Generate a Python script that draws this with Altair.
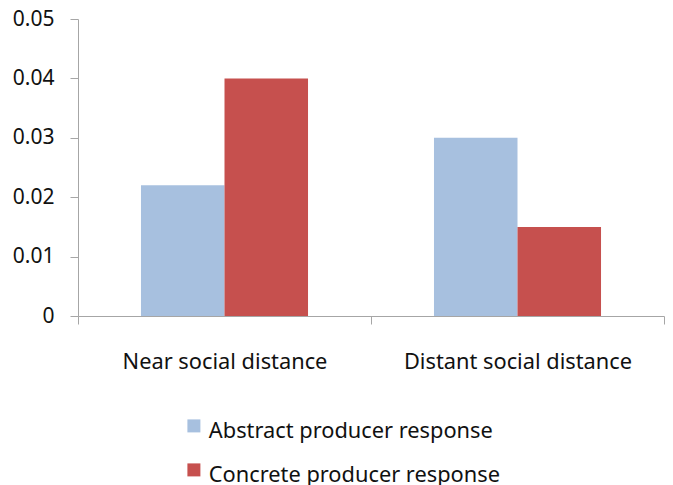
import altair as alt
import pandas as pd

categories = ["Near social distance", "Distant social distance"]
series = ["Abstract producer response", "Concrete producer response"]
abstract_vals = [0.022, 0.030]
concrete_vals = [0.040, 0.015]
colors = ["#A7C0DF", "#C6504E"]

rows = []
for i, c in enumerate(categories):
    rows.append({"cat": c, "series": series[0], "value": abstract_vals[i]})
    rows.append({"cat": c, "series": series[1], "value": concrete_vals[i]})
df = pd.DataFrame(rows)

FONT = "Noto Sans"
FS = 21.8
FSY = 21

chart = alt.Chart(df).mark_bar().encode(
    x=alt.X("cat:N", sort=categories, title=None,
            scale=alt.Scale(paddingInner=0, paddingOuter=0),
            axis=alt.Axis(labelAngle=0, tickBand="extent", tickSize=8,
                          labelPadding=27, labelFontSize=FS, labelFont=FONT,
                          labelLimit=0,
                          labelColor="#111111", domainColor="#A6A6A6",
                          tickColor="#A6A6A6", grid=False)),
    xOffset=alt.XOffset("series:N", sort=series,
                        scale=alt.Scale(paddingInner=0, paddingOuter=0.754)),
    y=alt.Y("value:Q", title=None,
            scale=alt.Scale(domain=[0, 0.05], nice=False),
            axis=alt.Axis(values=[0, 0.01, 0.02, 0.03, 0.04, 0.05],
                          labelExpr="datum.value == 0 ? '0' : format(datum.value, '.2f')",
                          tickSize=8, labelPadding=16, labelFontSize=FSY,
                          labelFont=FONT, labelColor="#111111",
                          domainColor="#A6A6A6", tickColor="#A6A6A6", grid=False)),
    color=alt.Color("series:N", sort=series,
                    scale=alt.Scale(domain=series, range=colors),
                    legend=alt.Legend(title=None, orient="none", legendX=105, legendY=396,
                                      symbolType="square", symbolSize=169,
                                      symbolStrokeWidth=0, labelFontSize=FS,
                                      labelFont=FONT, labelColor="#111111",
                                      labelLimit=0, labelBaseline="line-top",
                                      rowPadding=16, labelOffset=4)),
).properties(
    width=586, height=297,
    autosize=alt.AutoSizeParams(type="none"),
    padding={"left": 70, "top": 11, "right": 1, "bottom": 170},
).configure(
    style={"guide-label": {"lineHeight": 11}}
).configure_view(stroke=None)

chart.save("out.html", embed_options={"renderer": "svg", "actions": False})
